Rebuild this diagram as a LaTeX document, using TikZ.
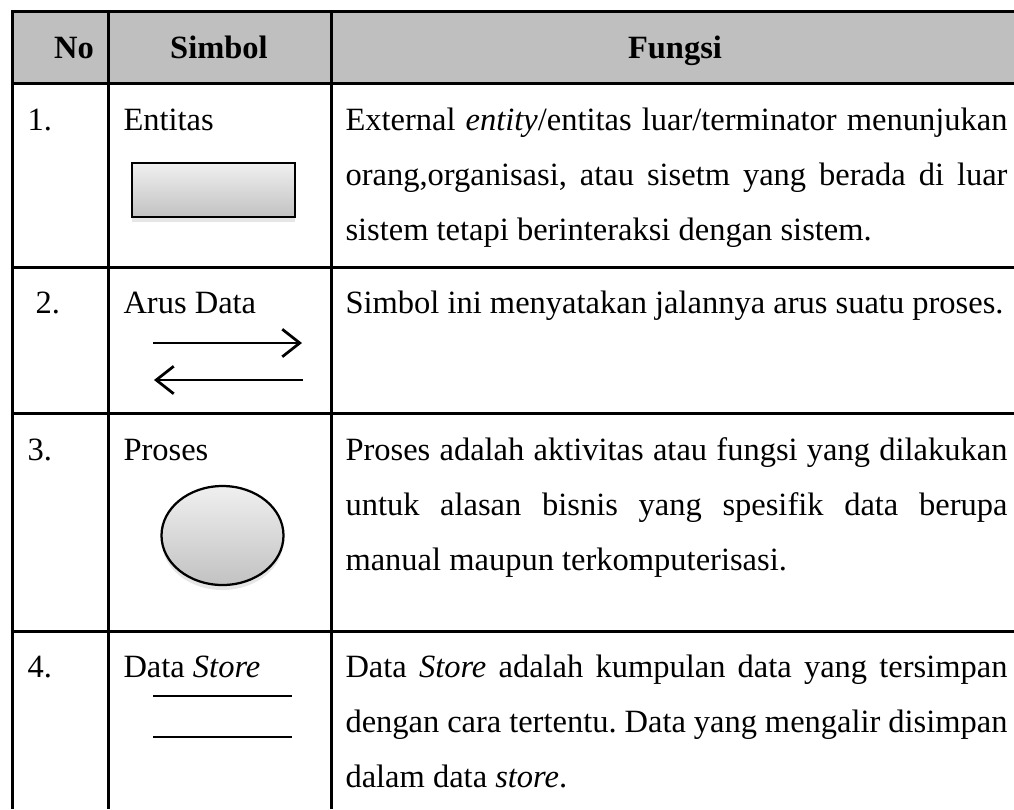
\documentclass[tikz,border=0pt]{standalone}
\usepackage{fontspec}
\setmainfont{Liberation Serif}
\usetikzlibrary{arrows.meta,shadows,shapes.geometric}
\frenchspacing

\tikzset{
  cell/.style={anchor=base west,inner sep=0pt,font=\fontsize{13}{22}\selectfont},
  desc/.style={cell,text width=264.8pt,align=justify},
  head/.style={anchor=base,inner sep=0pt,font=\fontsize{13}{22}\selectfont\bfseries},
  symshade/.style={draw,line width=0.9pt,top color=gray!12,bottom color=gray!48,
    drop shadow={opacity=0.2,shadow xshift=0pt,shadow yshift=-2pt}},
  flow/.style={line width=1.1pt,-{Straight Barb[length=7pt,width=11pt]}}
}

\begin{document}
\begin{tikzpicture}[x=0.4pt,y=-0.4pt]
\useasboundingbox (0,0) rectangle (1014,809);

% table grid
\fill[gray!50] (12,11) rectangle (1014,83);
\draw[line width=1.2pt] (12,809) -- (12,11) -- (1014,11);
\foreach \y in {83,267,413,631}
  \draw[line width=1.2pt] (12,\y) -- (1014,\y);
\draw[line width=1.2pt] (108,11) -- (108,809);
\draw[line width=1.2pt] (331,11) -- (331,809);

% header
\node[head] (hno) at (74,58) {No};
\node[head] (hsym) at (219,58) {Simbol};
\node[head] (hfun) at (675,58) {Fungsi};

% 1. entitas
\node[cell] (no1) at (27,130) {1.};
\node[cell] (sym1) at (123,130) {Entitas};
\node[symshade,minimum width=65.2pt,minimum height=21.6pt] (ent) at (213.5,190) {};
\node[desc] (fun1) at (345,130) {External \textit{entity}/entitas luar/terminator menunjukan\linebreak
  orang,organisasi, atau sisetm yang berada di luar\linebreak
  sistem tetapi berinteraksi dengan sistem.};

% 2. arus data
\node[cell] (no2) at (35,313) {2.};
\node[cell] (sym2) at (123,313) {Arus Data};
\coordinate (ain) at (153,343);
\coordinate (aout) at (302,343);
\coordinate (bin) at (303,380);
\coordinate (bout) at (154,380);
\draw[flow] (ain) -- (aout);
\draw[flow] (bin) -- (bout);
\node[desc] (fun2) at (345,313) {Simbol ini menyatakan jalannya arus suatu proses.};

% 3. proses
\node[cell] (no3) at (27,460) {3.};
\node[cell] (sym3) at (123,460) {Proses};
\node[symshade,ellipse,minimum width=48.8pt,minimum height=39.6pt] (proc) at (222.5,535.5) {};
\node[desc] (fun3) at (345,460) {Proses adalah aktivitas atau fungsi yang dilakukan\linebreak
  untuk alasan bisnis yang spesifik data berupa\linebreak
  manual maupun terkomputerisasi.};

% 4. data store
\node[cell] (no4) at (27,677) {4.};
\node[cell] (sym4) at (123,677) {Data \textit{Store}};
\draw[line width=1.1pt] (153,696) -- (292,696);
\draw[line width=1.1pt] (153,737) -- (292,737);
\node[desc] (fun4) at (345,677) {Data \textit{Store} adalah kumpulan data yang tersimpan\linebreak
  dengan cara tertentu. Data yang mengalir disimpan\linebreak
  dalam data \textit{store}.};
\end{tikzpicture}
\end{document}
